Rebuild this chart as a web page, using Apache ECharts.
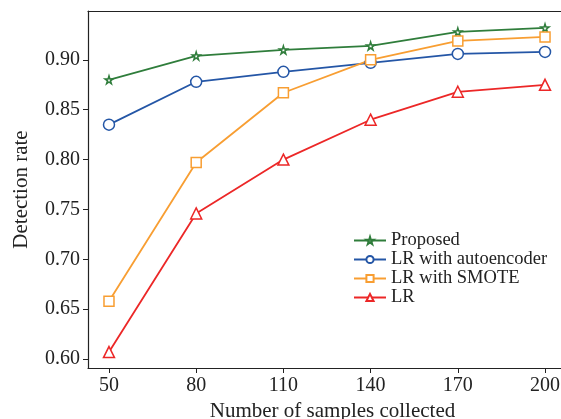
<!DOCTYPE html>
<html>
<head>
<meta charset="utf-8">
<script src="https://cdn.jsdelivr.net/npm/echarts@6/dist/echarts.min.js"></script>
<style>
  html, body { margin: 0; padding: 0; background: #fff; }
  #chart { width: 561px; height: 419px; }
</style>
</head>
<body>
<div id="chart"></div>
<script>
const samples = [50, 80, 110, 140, 170, 200]
const proposed = [0.880, 0.904, 0.910, 0.914, 0.928, 0.932]
const lrAutoencoder = [0.835, 0.878, 0.888, 0.897, 0.906, 0.908]
const lrSmote = [0.658, 0.797, 0.867, 0.900, 0.919, 0.923]
const lr = [0.607, 0.746, 0.800, 0.840, 0.868, 0.875]
const yTicks = [0.60, 0.65, 0.70, 0.75, 0.80, 0.85, 0.90]

const font = 'Liberation Serif'
const starPath = 'path://M50,0 L61,35 L98,35 L68,57 L79,91 L50,70 L21,91 L32,57 L2,35 L39,35 Z'

const pairs = arr => samples.map((s, i) => [s, arr[i]])

const chart = echarts.init(document.getElementById('chart'))

const makeSeries = (name, data, color, symbol, size) => ({
    name: name,
    type: 'line',
    data: pairs(data),
    symbol: symbol,
    symbolSize: size,
    lineStyle: { color: color, width: 1.8 },
    itemStyle: { color: '#fff', borderColor: color, borderWidth: 1.5 },
    emphasis: { disabled: true }
})

// plot box runs a bit past the right edge of the picture, like the original
const option = {
    animation: false,
    backgroundColor: '#fff',
    textStyle: { fontFamily: font },
    grid: { left: 88, top: 11, right: -16, bottom: 51, outerBoundsMode: 'none', containLabel: false },
    legend: {
        left: 348,
        top: 226,
        orient: 'vertical',
        itemWidth: 32,
        itemHeight: 9,
        itemGap: 0,
        textStyle: { fontFamily: font, fontSize: 18.5, color: '#222' },
        data: ['Proposed', 'LR with autoencoder', 'LR with SMOTE', 'LR']
    },
    xAxis: [
        {
            type: 'value',
            min: 42.78,
            max: 211,
            name: 'Number of samples collected',
            nameLocation: 'middle',
            nameGap: 33,
            nameTextStyle: { fontFamily: font, fontSize: 21, color: '#222' },
            axisLine: { lineStyle: { color: '#222', width: 1.2 } },
            axisTick: { show: true, length: 5, customValues: samples, lineStyle: { color: '#222' } },
            axisLabel: { customValues: samples, fontFamily: font, fontSize: 20, color: '#222', margin: 8 },
            splitLine: { show: false }
        },
        {
            type: 'value',
            position: 'top',
            min: 42.78,
            max: 211,
            axisLine: { show: true, lineStyle: { color: '#222', width: 1.2 } },
            axisTick: { show: false },
            axisLabel: { show: false },
            splitLine: { show: false }
        }
    ],
    yAxis: {
        type: 'value',
        min: 0.591,
        max: 0.949,
        name: 'Detection rate',
        nameLocation: 'middle',
        nameGap: 56,
        nameTextStyle: { fontFamily: font, fontSize: 21, color: '#222' },
        axisLine: { show: true, lineStyle: { color: '#222', width: 1.2 } },
        axisTick: { show: true, length: 5, customValues: yTicks, lineStyle: { color: '#222' } },
        axisLabel: {
            customValues: yTicks,
            fontFamily: font,
            fontSize: 20,
            color: '#222',
            margin: 8,
            formatter: v => v.toFixed(2)
        },
        splitLine: { show: false }
    },
    series: [
        makeSeries('Proposed', proposed, '#2f7d3b', starPath, 8),
        makeSeries('LR with autoencoder', lrAutoencoder, '#2456a6', 'circle', 11),
        makeSeries('LR with SMOTE', lrSmote, '#f89e32', 'rect', 10),
        makeSeries('LR', lr, '#ec2727', 'triangle', 11)
    ]
}

chart.setOption(option)
</script>
</body>
</html>
